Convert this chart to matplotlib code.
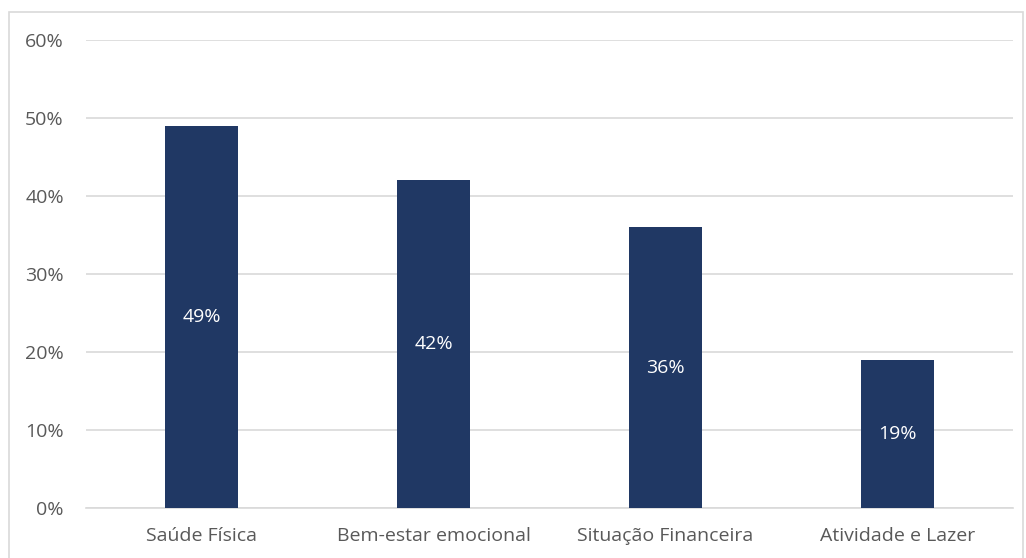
import matplotlib
matplotlib.use("Agg")
import matplotlib.pyplot as plt
from matplotlib.patches import Rectangle
from matplotlib.ticker import PercentFormatter

# data
categories = ["Saúde Física", "Bem-estar emocional", "Situação Financeira", "Atividade e Lazer"]
values = [49, 42, 36, 19]
yticks = [0, 10, 20, 30, 40, 50, 60]

bar_color = "#203864"
text_color = "#595959"
grid_color = "#D9D9D9"

plt.rcParams["font.family"] = ["Open Sans", "DejaVu Sans"]

W, H = 1026, 558
fig = plt.figure(figsize=(W / 100, H / 100), dpi=100)
ax = fig.add_axes([86 / W, 1 - 508 / H, (1013 - 86) / W, (508 - 40) / H])

x = list(range(len(categories)))
bars = ax.bar(x, values, width=0.315, color=bar_color, zorder=3)

for b, v in zip(bars, values):
    ax.text(b.get_x() + b.get_width() / 2, v / 2, f"{v}%", ha="center", va="center",
            color="white", fontsize=14, zorder=4)

ax.set_xlim(-0.5, len(categories) - 0.5)
ax.set_ylim(0, 60)
ax.set_yticks(yticks)
ax.yaxis.set_major_formatter(PercentFormatter(decimals=0))
ax.set_xticks(x)
ax.set_xticklabels(categories)
ax.tick_params(axis="both", length=0, colors=text_color, labelsize=14)
ax.tick_params(axis="y", pad=16)
ax.tick_params(axis="x", pad=14)

ax.grid(axis="y", color=grid_color, linewidth=1.2, zorder=0)
for s in ["top", "right", "left"]:
    ax.spines[s].set_visible(False)
ax.spines["bottom"].set_color(grid_color)
ax.spines["bottom"].set_linewidth(1.2)

# outer chart border
fig.patches.append(Rectangle((9 / W, -0.01), (1023 - 9) / W, 1 - 12 / H + 0.01,
                             transform=fig.transFigure, fill=False,
                             edgecolor=grid_color, linewidth=1.2))

fig.savefig("out.png", dpi=100)
